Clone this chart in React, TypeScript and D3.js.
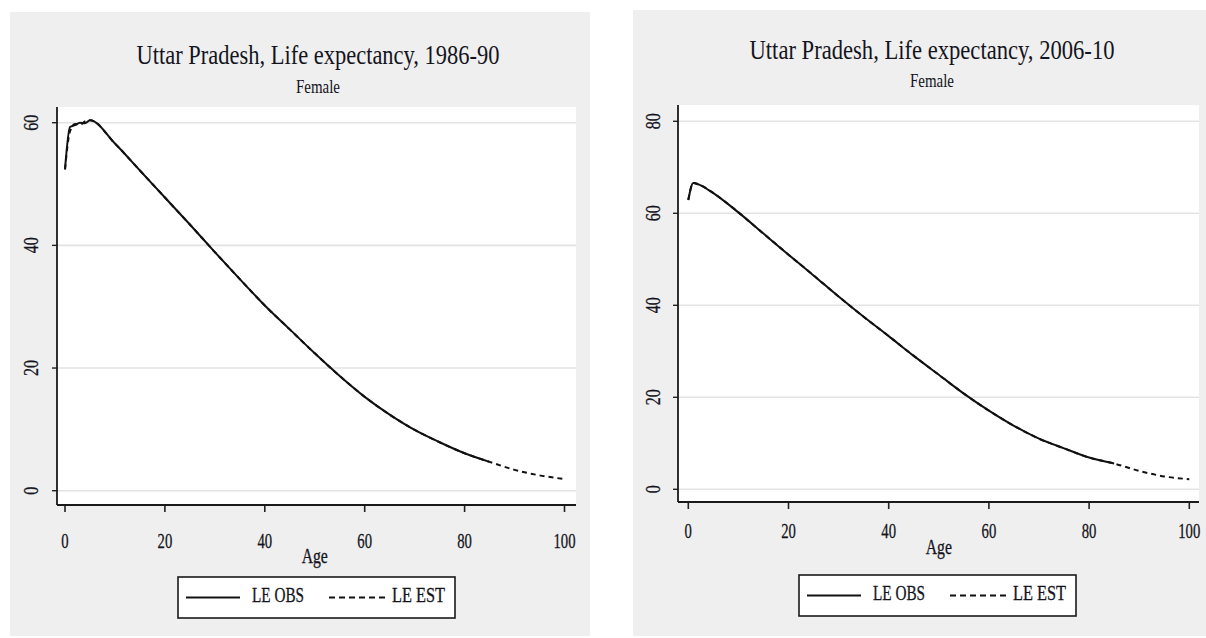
import React from "react";
import * as d3 from "d3";

// ages and life expectancy readings, Uttar Pradesh, female
const agesObs = [0, 1, 2, 3, 4, 5, 10, 15, 20, 25, 30, 35, 40, 45, 50, 55, 60, 65, 70, 75, 80, 85];
const agesEst = [0, 1, 2, 3, 4, 5, 10, 15, 20, 25, 30, 35, 40, 45, 50, 55, 60, 65, 70, 75, 80, 85, 90, 95, 100];

const le1986Obs = [52.4, 59.3, 59.6, 60.0, 59.9, 60.4, 56.6, 52.2, 47.8, 43.4, 38.9, 34.5, 30.2, 26.3, 22.4, 18.7, 15.3, 12.4, 9.9, 7.9, 6.1, 4.7];
const le1986Est = [52.4, 58.6, 59.8, 59.7, 60.2, 60.4, 56.6, 52.2, 47.8, 43.4, 38.9, 34.5, 30.2, 26.3, 22.4, 18.7, 15.3, 12.4, 9.9, 7.9, 6.1, 4.7, 3.4, 2.5, 1.9];

const le2006Obs = [62.9, 66.6, 66.3, 65.8, 65.1, 64.4, 60.2, 55.6, 51.0, 46.5, 41.9, 37.5, 33.3, 29.0, 24.9, 20.8, 17.1, 13.8, 11.0, 8.9, 6.9, 5.6];
const le2006Est = [62.9, 66.6, 66.3, 65.8, 65.1, 64.4, 60.2, 55.6, 51.0, 46.5, 41.9, 37.5, 33.3, 29.0, 24.9, 20.8, 17.1, 13.8, 11.0, 8.9, 6.9, 5.6, 4.0, 2.8, 2.2];

const xTicks = [0, 20, 40, 60, 80, 100];
const yTicks1986 = [0, 20, 40, 60];
const yTicks2006 = [0, 20, 40, 60, 80];

const titles = ["Uttar Pradesh, Life expectancy, 1986-90", "Uttar Pradesh, Life expectancy, 2006-10"];
const subtitle = "Female";
const xLabel = "Age";
const legendLabels = ["LE OBS", "LE EST"];

const FONT = "'Liberation Serif', 'DejaVu Serif', serif";
const INK = "#141420";

type Layout = {
  bg: [number, number, number, number];
  plotLeft: number;
  plotRight: number;
  plotTop: number;
  plotBottom: number;
  x0: number;
  x100: number;
  y0: number;
  yTopPx: number;
  yTopVal: number;
  yLabelX: number;
  titleX: number;
  titleY: number;
  titleLen: number;
  subY: number;
  tickLabelY: number;
  ageY: number;
  legend: [number, number, number, number];
};

// squeeze text horizontally around its anchor, like the condensed export
const squeeze = (cx: number, k: number) => `translate(${cx},0) scale(${k},1) translate(${-cx},0)`;

function Panel({
  layout,
  title,
  yTicks,
  obs,
  est,
}: {
  layout: Layout;
  title: string;
  yTicks: number[];
  obs: number[];
  est: number[];
}) {
  const L = layout;
  const x = d3.scaleLinear().domain([0, 100]).range([L.x0, L.x100]);
  const y = d3.scaleLinear().domain([0, L.yTopVal]).range([L.y0, L.yTopPx]);
  const line = d3
    .line<[number, number]>()
    .x((d) => x(d[0]))
    .y((d) => y(d[1]))
    .curve(d3.curveMonotoneX);
  const obsPts = agesObs.map((a, i) => [a, obs[i]] as [number, number]);
  const estPts = agesEst.map((a, i) => [a, est[i]] as [number, number]);
  const [lx, ly, lw, lh] = L.legend;
  const ly0 = ly + lh / 2;
  const lpad = lw / 277;
  const midX = (L.x0 + L.x100) / 2;

  return (
    <g fontFamily={FONT}>
      <rect x={L.bg[0]} y={L.bg[1]} width={L.bg[2]} height={L.bg[3]} fill="#efefef" />
      <text
        x={L.titleX}
        y={L.titleY}
        fontSize={27}
        textAnchor="middle"
        dominantBaseline="middle"
        textLength={L.titleLen}
        lengthAdjust="spacingAndGlyphs"
        fill={INK}
      >
        {title}
      </text>
      <text
        x={L.titleX}
        y={L.subY}
        fontSize={18}
        textAnchor="middle"
        dominantBaseline="middle"
        textLength={44}
        lengthAdjust="spacingAndGlyphs"
        fill={INK}
      >
        {subtitle}
      </text>
      <rect
        x={L.plotLeft}
        y={L.plotTop}
        width={L.plotRight - L.plotLeft}
        height={L.plotBottom - L.plotTop}
        fill="#ffffff"
      />
      {yTicks.map((t) => (
        <line
          key={"g" + t}
          x1={L.plotLeft}
          x2={L.plotRight}
          y1={y(t)}
          y2={y(t)}
          stroke="#e3e3e3"
          strokeWidth={1.6}
        />
      ))}
      {yTicks.map((t) => (
        <g key={"yt" + t}>
          <line x1={L.plotLeft - 5} x2={L.plotLeft} y1={y(t)} y2={y(t)} stroke="#222" strokeWidth={1.4} />
          <text
            transform={`translate(${L.yLabelX},${y(t)}) rotate(-90) scale(0.8,1)`}
            fontSize={20}
            textAnchor="middle"
            dominantBaseline="middle"
            fill={INK}
            stroke={INK}
            strokeWidth={0.3}
          >
            {t}
          </text>
        </g>
      ))}
      {xTicks.map((t) => (
        <g key={"xt" + t}>
          <line x1={x(t)} x2={x(t)} y1={L.plotBottom} y2={L.plotBottom + 7} stroke="#222" strokeWidth={1.6} />
          <text
            x={x(t)}
            y={L.tickLabelY}
            fontSize={21}
            textAnchor="middle"
            dominantBaseline="middle"
            fill={INK}
            stroke={INK}
            strokeWidth={0.3}
            transform={squeeze(x(t), 0.7)}
          >
            {t}
          </text>
        </g>
      ))}
      <line x1={L.plotLeft} x2={L.plotLeft} y1={L.plotTop} y2={L.plotBottom} stroke="#1a1a1a" strokeWidth={1.8} />
      <line x1={L.plotLeft} x2={L.plotRight} y1={L.plotBottom} y2={L.plotBottom} stroke="#1a1a1a" strokeWidth={1.8} />
      <text
        x={midX}
        y={L.ageY}
        fontSize={21}
        textAnchor="middle"
        dominantBaseline="middle"
        fill={INK}
        stroke={INK}
        strokeWidth={0.3}
        transform={squeeze(midX, 0.75)}
      >
        {xLabel}
      </text>
      <path d={line(estPts) ?? ""} fill="none" stroke="#111" strokeWidth={2} strokeDasharray="5,4" />
      <path d={line(obsPts) ?? ""} fill="none" stroke="#111" strokeWidth={2} />
      <rect x={lx} y={ly} width={lw} height={lh} fill="#ffffff" stroke="#1a1a1a" strokeWidth={1.6} />
      <line x1={lx + 8 * lpad} x2={lx + 62 * lpad} y1={ly0} y2={ly0} stroke="#111" strokeWidth={1.8} />
      <text
        x={lx + 74 * lpad}
        y={ly0}
        fontSize={21}
        dominantBaseline="middle"
        textLength={52}
        lengthAdjust="spacingAndGlyphs"
        fill={INK}
        stroke={INK}
        strokeWidth={0.3}
      >
        {legendLabels[0]}
      </text>
      <line
        x1={lx + 151 * lpad}
        x2={lx + 207 * lpad}
        y1={ly0}
        y2={ly0}
        stroke="#111"
        strokeWidth={1.8}
        strokeDasharray="6,4"
      />
      <text
        x={lx + 214 * lpad}
        y={ly0}
        fontSize={21}
        dominantBaseline="middle"
        textLength={53}
        lengthAdjust="spacingAndGlyphs"
        fill={INK}
        stroke={INK}
        strokeWidth={0.3}
      >
        {legendLabels[1]}
      </text>
    </g>
  );
}

const leftLayout: Layout = {
  bg: [10, 12, 580, 624],
  plotLeft: 57,
  plotRight: 576,
  plotTop: 107,
  plotBottom: 505,
  x0: 65,
  x100: 564.5,
  y0: 490.7,
  yTopPx: 122.7,
  yTopVal: 60,
  yLabelX: 33,
  titleX: 318,
  titleY: 58,
  titleLen: 363,
  subY: 89,
  tickLabelY: 543,
  ageY: 558,
  legend: [178, 577, 277, 41],
};

const rightLayout: Layout = {
  bg: [633, 10, 573, 626],
  plotLeft: 678,
  plotRight: 1199,
  plotTop: 105,
  plotBottom: 502,
  x0: 688.3,
  x100: 1189.3,
  y0: 489.3,
  yTopPx: 121.3,
  yTopVal: 80,
  yLabelX: 655,
  titleX: 932,
  titleY: 53,
  titleLen: 365,
  subY: 83,
  tickLabelY: 533,
  ageY: 549,
  legend: [799, 575, 277, 41],
};

export default function App() {
  return (
    <svg
      width={1206}
      height={638}
      style={{ position: "absolute", left: 0, top: 0, background: "#ffffff" }}
    >
      <Panel layout={leftLayout} title={titles[0]} yTicks={yTicks1986} obs={le1986Obs} est={le1986Est} />
      <Panel layout={rightLayout} title={titles[1]} yTicks={yTicks2006} obs={le2006Obs} est={le2006Est} />
    </svg>
  );
}
